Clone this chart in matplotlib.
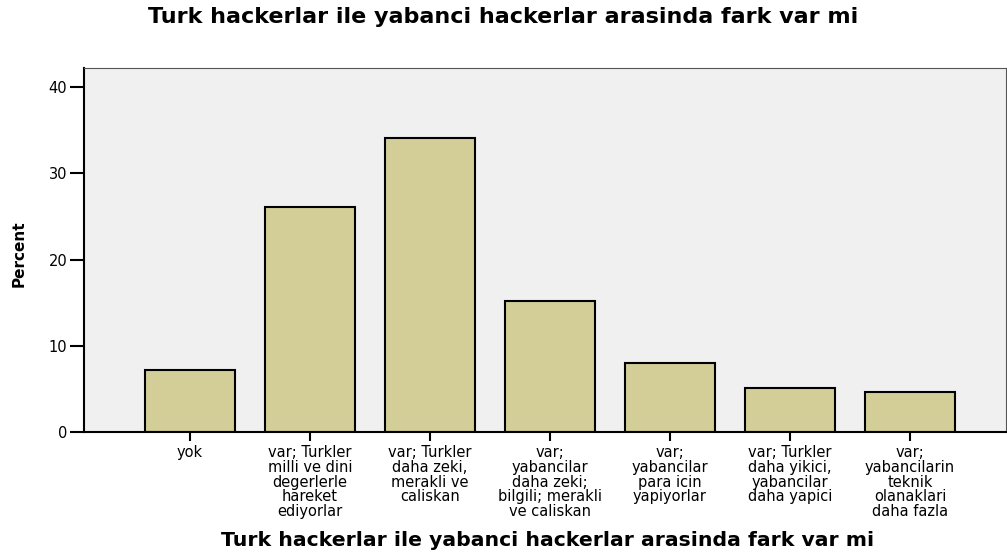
import matplotlib
matplotlib.use("Agg")
import matplotlib.pyplot as plt

plt.rcParams['font.family'] = ['DejaVu Sans']

categories = [
    "yok",
    "var; Turkler\nmilli ve dini\ndegerlerle\nhareket\nediyorlar",
    "var; Turkler\ndaha zeki,\nmerakli ve\ncaliskan",
    "var;\nyabancilar\ndaha zeki;\nbilgili; merakli\nve caliskan",
    "var;\nyabancilar\npara icin\nyapiyorlar",
    "var; Turkler\ndaha yikici,\nyabancilar\ndaha yapici",
    "var;\nyabancilarin\nteknik\nolanaklari\ndaha fazla",
]
percents = [7.2, 26.1, 34.1, 15.2, 8.0, 5.1, 4.6]
title = "Turk hackerlar ile yabanci hackerlar arasinda fark var mi"

fig = plt.figure(figsize=(10.07, 5.54), dpi=100)
ax = fig.add_axes([0.0834, 0.2202, 0.9156, 0.657])
ax.set_facecolor('#f0f0f0')

x = list(range(len(categories)))
ax.bar(x, percents, width=0.75, color='#d3ce98', edgecolor='black', linewidth=1.5, zorder=2)

ax.set_xlim(-0.883, 6.8)
ax.set_ylim(0, 42.2)
ax.set_yticks([0, 10, 20, 30, 40])
ax.set_xticks(x)
ax.set_xticklabels(categories, fontsize=10.5, linespacing=0.98)
ax.tick_params(axis='y', labelsize=10.5, length=10, width=1.5, pad=2)
ax.tick_params(axis='x', length=6.5, width=1.5, pad=3)

for s in ['left', 'bottom']:
    ax.spines[s].set_linewidth(1.5)
for s in ['top', 'right']:
    ax.spines[s].set_linewidth(0.8)
    ax.spines[s].set_color('#555555')

ax.set_ylabel('Percent', fontsize=11, fontweight='bold')
ax.yaxis.set_label_coords(-0.062, 0.49)

fig.text(0.5, 1 - 23 / 554, title, ha='center', va='baseline', fontsize=16, fontweight='bold')
fig.text(0.5435, 1 - 546 / 554, title, ha='center', va='baseline', fontsize=14.7, fontweight='bold')

fig.savefig('out.png', dpi=100)
